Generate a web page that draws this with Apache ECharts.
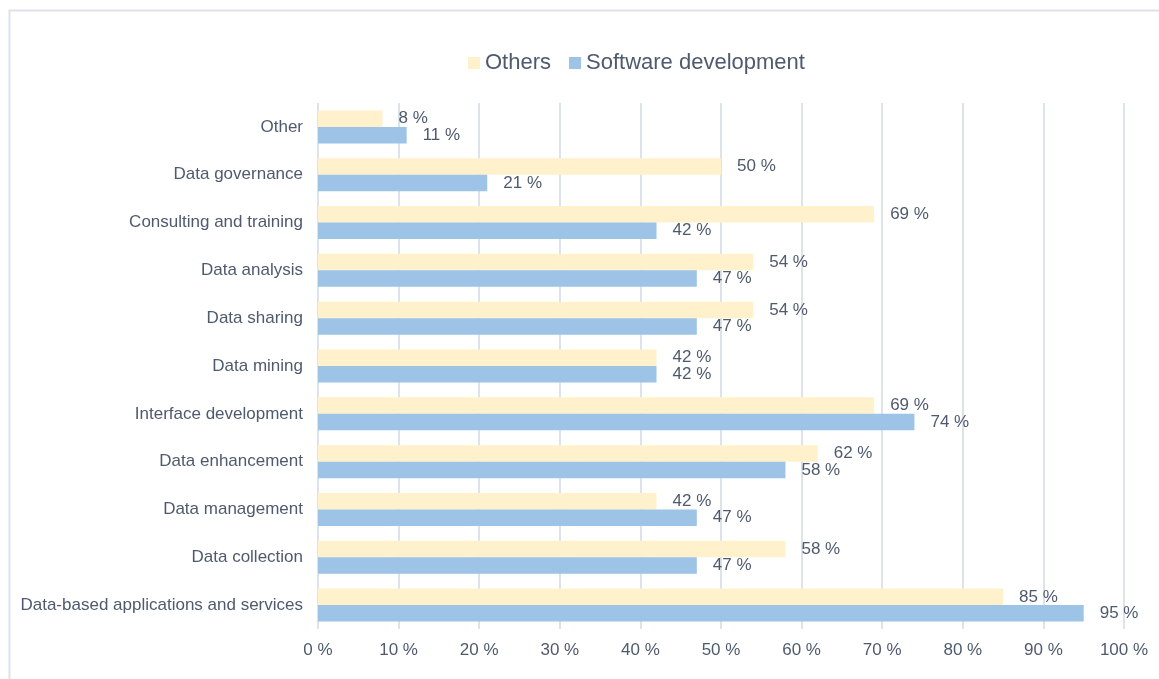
<!DOCTYPE html>
<html>
<head>
<meta charset="utf-8">
<script src="https://cdn.jsdelivr.net/npm/echarts@6/dist/echarts.min.js"></script>
<style>
  html, body { margin: 0; padding: 0; background: #fff; }
  #chart { width: 1159px; height: 679px; }
</style>
</head>
<body>
<div id="chart"></div>
<script>
// categories listed bottom to top (ECharts draws the first category at the bottom)
const categories = [
  'Data-based applications and services',
  'Data collection',
  'Data management',
  'Data enhancement',
  'Interface development',
  'Data mining',
  'Data sharing',
  'Data analysis',
  'Consulting and training',
  'Data governance',
  'Other'
];
const othersValues = [85, 58, 42, 62, 69, 42, 54, 54, 69, 50, 8];
const softwareValues = [95, 47, 47, 58, 74, 42, 47, 47, 42, 21, 11];

const textColor = '#4F5A6E';
const font = 'Liberation Sans, Arial, sans-serif';

const chart = echarts.init(document.getElementById('chart'));

const barLabel = {
  show: true,
  position: 'right',
  distance: 16,
  formatter: '{c} %',
  color: textColor,
  fontSize: 17,
  fontFamily: font
};

chart.setOption({
  animation: false,
  textStyle: { fontFamily: font },
  graphic: [{
    type: 'rect',
    silent: true,
    shape: { x: 9.5, y: 10.5, width: 1200, height: 720 },
    style: { fill: 'none', stroke: '#DCE1EA', lineWidth: 2 }
  }],
  legend: {
    left: 463,
    top: 47,
    itemWidth: 12,
    itemHeight: 12,
    itemGap: 18,
    icon: 'rect',
    textStyle: { color: textColor, fontSize: 22, fontFamily: font },
    data: ['Others', 'Software development']
  },
  grid: { left: 318, right: 35, top: 103, bottom: 50 },
  xAxis: {
    type: 'value',
    min: 0,
    max: 100,
    interval: 10,
    axisLine: { show: false },
    axisTick: { show: false },
    axisLabel: {
      formatter: '{value} %',
      color: textColor,
      fontSize: 17,
      margin: 13
    },
    splitLine: { lineStyle: { color: '#DDE2EB', width: 2 } }
  },
  yAxis: {
    type: 'category',
    data: categories,
    axisLine: { show: false },
    axisTick: { show: false },
    axisLabel: { color: textColor, fontSize: 17, margin: 15 }
  },
  series: [
    {
      name: 'Others',
      type: 'bar',
      data: othersValues,
      itemStyle: { color: '#FFF1CC' },
      barGap: '0%',
      barCategoryGap: '31%',
      label: barLabel
    },
    {
      name: 'Software development',
      type: 'bar',
      data: softwareValues,
      itemStyle: { color: '#9DC3E6' },
      barGap: '0%',
      barCategoryGap: '31%',
      label: barLabel
    }
  ]
});
</script>
</body>
</html>
